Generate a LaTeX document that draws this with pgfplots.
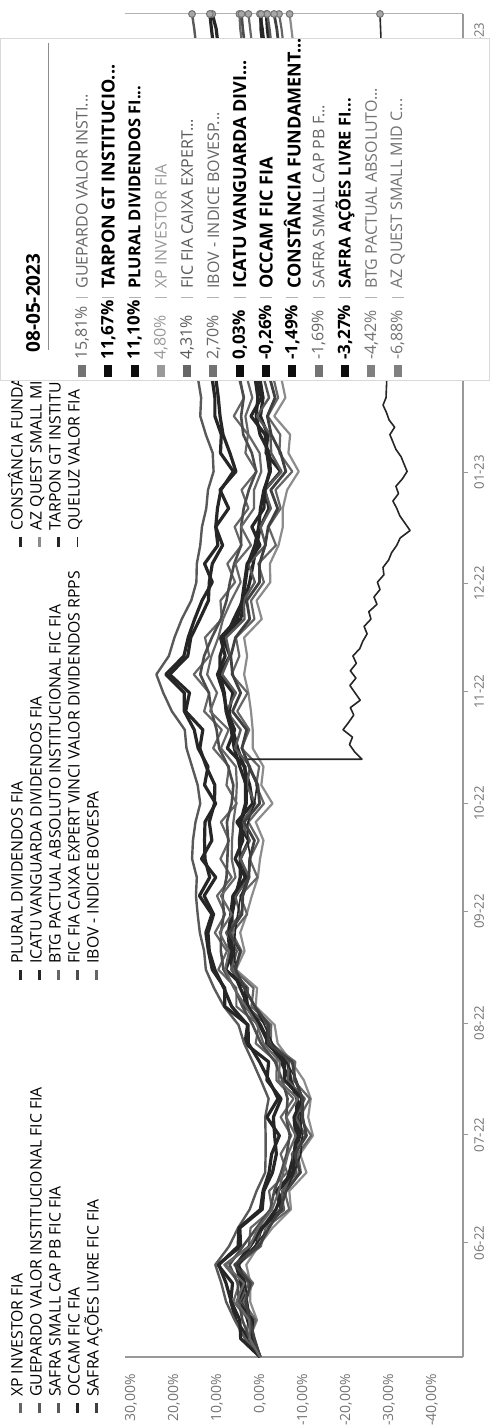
\documentclass[border=0pt]{standalone}
\usepackage{pgfplots}
\pgfplotsset{compat=1.18}
\usepackage{pgfplotstable}
\usepackage{fontspec}
\setmainfont{Open Sans}

\pgfplotstableread{
d G T P X C I IC O CO SS SA BT AZ
0 0 0 0 0 0 0 0 0 0 0 0 0 0
5 3.5 4.5 2.7 3.5 2.4 2.4 1.5 2.1 1.8 2.3 1.3 2.4 2.5
10 5.9 4.7 5.6 2.6 4.1 2.5 2.9 1.7 2.5 1.6 2.4 1.0 0.7
15 7.9 6.7 6.8 6.2 4.9 5.5 4.0 5.2 3.3 4.8 3.3 3.9 2.3
20 9.0 7.9 6.4 4.8 5.2 3.7 4.3 3.5 4.4 2.6 2.2 1.6 2.2
25 10.4 9.6 9.8 8.3 7.1 8.0 5.3 5.5 5.6 5.8 5.9 5.3 3.2
30 7.2 5.1 4.5 2.6 4.0 2.4 2.3 2.5 0.9 0.7 0.3 -0.2 0.4
35 5.1 4.9 4.7 2.2 0.8 0.4 -0.6 -0.4 -0.3 -0.1 -2.1 -1.3 -2.9
40 2.4 -0.1 -0.5 -2.8 -2.4 -2.8 -3.7 -4.9 -5.5 -5.5 -4.7 -6.8 -7.2
45 0.8 -0.7 -0.9 -2.1 -3.3 -4.4 -5.4 -3.8 -4.1 -5.1 -6.1 -5.7 -6.8
50 -1.2 -2.1 -2.9 -6.3 -4.9 -5.4 -6.8 -7.6 -8.1 -8.5 -9.3 -9.5 -10.8
55 -1.3 -2.7 -3.8 -4.8 -6.2 -6.5 -7.9 -8.1 -8.4 -7.4 -8.1 -8.8 -9.3
60 -1.3 -4.5 -3.4 -7.3 -6.9 -8.3 -8.5 -8.3 -9.2 -10.5 -10.8 -11.9 -12.3
65 -1.2 -1.6 -3.1 -4.8 -6.1 -6.1 -8.5 -7.9 -9.1 -8.3 -9.9 -9.2 -11.2
70 -2.0 -4.2 -4.9 -7.8 -6.4 -8.8 -8.6 -9.8 -8.7 -10.4 -9.9 -11.6 -11.8
75 -0.2 -2.1 -1.6 -3.8 -5.2 -4.3 -6.9 -5.7 -7.2 -6.4 -8.2 -7.8 -10.2
80 1.7 0.1 -2.0 -3.9 -3.5 -4.6 -4.9 -5.7 -6.4 -6.8 -7.5 -8.2 -7.3
85 3.7 2.7 3.5 1.0 -0.2 -0.8 -2.2 -2.0 -1.5 -1.9 -1.9 -2.5 -4.1
90 5.0 2.8 2.9 0.3 1.7 0.7 -0.1 0.1 -1.9 -1.7 -2.0 -2.6 -3.4
95 8.4 8.2 6.6 5.5 4.1 3.3 2.7 2.9 3.7 3.2 1.2 2.0 1.0
100 10.7 8.2 8.4 5.5 5.9 6.1 4.6 3.4 3.4 2.8 3.6 1.5 0.7
105 12.6 11.1 10.5 9.7 8.5 8.1 6.4 8.0 6.4 6.7 5.7 6.1 5.6
110 13.0 12.0 11.8 7.7 9.1 7.2 7.1 6.3 6.5 5.4 4.6 4.3 3.6
115 14.0 12.6 12.1 10.5 9.1 9.4 7.4 7.2 6.6 7.9 7.2 6.5 4.6
120 14.5 11.2 10.8 8.1 8.4 6.6 6.6 6.8 6.5 4.6 4.2 3.0 3.1
125 14.9 14.1 13.0 10.0 8.7 9.1 5.7 6.3 5.7 5.8 4.0 4.6 1.9
130 14.7 11.7 10.3 6.6 7.8 5.7 4.6 3.4 2.9 2.5 2.6 0.6 0.5
135 15.8 12.8 13.6 9.2 7.6 6.6 4.6 5.8 4.6 4.6 2.4 2.4 0.0
140 15.6 12.9 11.2 7.2 7.4 6.5 4.8 4.0 2.6 2.4 1.3 0.3 -0.8
145 15.0 12.8 11.8 9.1 7.7 6.2 4.3 4.5 5.4 4.2 3.7 2.7 1.0
150 13.9 10.3 10.6 5.4 6.6 5.6 3.2 3.4 1.7 1.1 0.1 -0.9 -2.9
155 14.5 12.9 10.5 7.8 6.2 5.4 3.2 3.4 2.4 3.1 0.5 0.9 -0.3
160 15.8 12.1 12.5 7.2 7.4 5.6 4.7 3.5 3.7 2.3 2.5 0.2 -0.8
165 17.1 14.4 14.0 10.9 9.5 9.1 6.0 7.6 5.2 5.8 4.2 4.3 1.7
170 17.5 15.3 13.3 8.9 10.1 7.3 6.7 5.9 6.3 4.5 3.1 2.5 1.7
175 20.5 17.6 17.3 13.0 11.3 11.6 7.9 7.7 7.2 7.8 6.4 5.3 2.1
180 22.5 17.6 16.4 11.8 11.9 10.0 8.3 8.5 6.3 5.6 4.5 2.9 2.7
185 24.1 21.9 21.0 15.4 13.9 12.3 9.3 9.9 9.5 8.8 6.4 6.6 3.7
190 21.2 17.7 16.8 11.8 13.0 11.3 9.3 8.1 7.0 7.0 6.8 4.8 3.0
195 19.9 16.7 16.1 12.8 11.2 9.7 8.0 9.2 8.6 7.9 5.7 5.6 3.7
200 18.2 15.2 14.0 8.9 9.1 8.6 6.1 5.3 4.5 3.6 2.4 1.3 -0.4
205 16.0 13.5 12.0 9.2 7.8 6.7 4.0 4.2 3.6 3.8 3.1 2.1 0.8
210 14.8 11.1 11.8 5.8 7.0 4.5 3.4 3.6 2.4 1.2 0.1 -0.9 -2.4
215 14.7 12.9 11.1 7.6 6.0 5.7 2.8 3.0 1.6 2.7 0.1 0.4 -2.3
220 13.9 9.8 8.7 4.3 4.4 2.1 1.2 0.0 0.8 -1.3 -1.2 -3.7 -4.3
225 13.5 10.3 10.3 5.9 4.4 4.4 0.3 1.9 -0.1 -0.1 -1.9 -2.0 -5.3
230 12.5 9.9 7.3 2.7 3.8 1.4 -0.1 -0.9 -2.1 -2.5 -4.1 -4.8 -5.3
235 12.1 9.1 9.3 4.3 2.6 1.4 -0.9 -1.1 -1.1 -1.1 -2.5 -3.6 -6.3
240 10.8 6.2 5.6 0.8 0.9 -0.3 -2.4 -2.2 -4.8 -5.0 -6.0 -7.5 -9.0
245 11.0 9.2 7.0 3.4 1.9 0.1 -2.2 -1.6 -1.4 -2.6 -4.8 -4.5 -6.6
250 12.6 9.0 8.6 2.8 3.9 2.7 0.0 -1.2 -1.8 -2.4 -2.6 -4.7 -7.0
255 13.9 10.5 9.3 6.1 4.4 3.4 0.9 2.1 -0.1 0.7 -1.7 -1.8 -3.3
260 13.7 10.5 9.7 3.7 3.8 1.8 0.5 -0.3 -0.7 -2.1 -3.5 -4.2 -5.9
270 15.1 11.7 10.8 6.0 5.5 4.1 1.7 1.9 0.7 0.2 -1.2 -2.2 -4.1
285 12.0 8.5 7.5 2.5 2.0 0.5 -2.0 -1.8 -3.0 -3.5 -5.0 -6.0 -8.0
300 11.3 7.7 6.7 1.5 1.0 -0.5 -3.1 -3.0 -4.2 -4.7 -6.2 -7.2 -9.3
315 9.1 5.4 4.3 -1.0 -1.5 -3.1 -5.7 -5.5 -6.8 -7.3 -8.9 -10.0 -12.1
330 12.4 8.6 7.5 2.0 1.5 -0.1 -2.9 -2.7 -4.0 -4.5 -6.1 -7.2 -9.4
345 14.1 10.2 9.1 3.6 3.0 1.3 -1.4 -1.2 -2.6 -3.1 -4.8 -5.9 -8.1
355 14.8 10.8 9.7 4.1 3.5 1.8 -1.0 -0.7 -2.2 -2.7 -4.4 -5.5 -7.8
360 15.3 11.3 10.2 4.6 4.0 2.3 -0.5 -0.2 -1.7 -2.2 -3.9 -5.0 -7.3
364 15.81 11.67 11.10 4.80 4.31 2.70 0.03 -0.26 -1.49 -1.69 -3.27 -4.42 -6.88
}\funds

\pgfplotstableread{
d v
0 0
5 1.6
10 2.3
15 2.9
20 3.5
25 4.8
30 1.3
35 -2.1
40 -4.7
45 -6.1
50 -7.9
55 -9.5
60 -9.8
65 -9.4
70 -9.9
75 -8.5
80 -6.1
85 -2.9
90 -1.0
95 1.2
100 3.6
105 5.7
110 6.0
115 5.8
120 5.2
125 4.5
130 2.7
135 2.2
140 2.9
145 2.8
150 1.3
155 0.7
160 2.7
162 3.0
162 -23.7
164 -22.0
166 -20.8
168 -21.5
170 -19.3
172 -20.6
174 -21.8
176 -21.0
178 -23.3
180 -22.1
182 -20.9
184 -22.3
186 -21.0
188 -22.4
190 -21.6
192 -23.2
194 -23.9
196 -24.9
198 -24.2
200 -25.8
202 -25.3
204 -27.2
206 -26.5
208 -27.9
210 -27.3
212 -28.8
214 -28.6
216 -29.9
218 -30.6
220 -31.8
222 -32.6
224 -34.9
226 -33.7
228 -32.5
230 -31.8
232 -30.9
234 -32.2
236 -31.6
238 -33.1
240 -34.2
242 -33.5
244 -32.8
246 -31.6
248 -30.9
250 -30.2
252 -31.3
254 -30.0
256 -29.4
258 -28.6
260 -29.3
280 -30.0
300 -31.0
320 -29.5
340 -28.5
355 -28.2
364 -27.9
}\queluz

\newcommand\prow[7]{%
  \pgfmathsetmacro\wk{203.5-13.15*#1}%
  \fill[#2] (525pt,\wk pt-2pt) rectangle (531pt,\wk pt+2pt);
  \node[anchor=west, inner sep=0pt, text=#4, font=#5] at (533.5pt,\wk pt) {#3};
  \draw[black!30, line width=0.4pt] (565pt,\wk pt-3pt) -- (565pt,\wk pt+3pt);
  \node[anchor=west, inner sep=0pt, text=#4, font=#6] at (569pt,\wk pt) {#7};
}

\begin{document}
\begin{tikzpicture}[rotate=90, transform shape]
\useasboundingbox (0,0) rectangle (713.5pt,244.5pt);
\begin{axis}[
  at={(35pt,13pt)}, anchor=south west,
  scale only axis, width=671.5pt, height=169pt,
  xmin=0, xmax=364, ymin=-47.2, ymax=31.4,
  axis x line*=bottom, axis y line*=left,
  axis line style={-, draw=black!40, line width=0.6pt},
  xtick={30.9,60.2,90.5,120.7,150.0,180.3,209.6,239.8,270.1,297.4,327.7,357.0},
  xticklabels={06-22,07-22,08-22,09-22,10-22,11-22,12-22,01-23,02-23,03-23,04-23,05-23},
  ytick={-40,-30,-20,-10,0,10,20,30},
  yticklabels={{-40,00\%},{-30,00\%},{-20,00\%},{-10,00\%},{0,00\%},{10,00\%},{20,00\%},{30,00\%}},
  tick label style={text=black!55},
  xticklabel style={anchor=north, inner sep=0pt, yshift=-3pt, font=\fontsize{6.6}{7}\selectfont},
  yticklabel style={anchor=east, inner sep=0pt, xshift=-6pt, font=\fontsize{7}{8}\selectfont},
  x tick style={draw=black!40, line width=0.5pt},
  y tick style={draw=none},
  tick align=outside, major tick length=2.5pt,
  legend columns=3,
  legend cell align=left,
  legend style={at={(-0.0432,1.337)}, anchor=north west, draw=none, fill=none,
    inner sep=0pt, outer sep=0pt, row sep=0pt, column sep=0pt,
    font=\fontsize{7.9}{8}\selectfont,
    nodes={inner sep=0pt, text height=5.8pt, text depth=3.7pt}},
  legend image code/.code={\draw[#1] (0pt,0pt) -- (5pt,0pt);},
  every axis plot/.append style={line join=round},
  endmark/.style={mark=*, mark indices={62}, mark size=1.7pt,
    mark options={solid, fill=black!35, draw=black!55, line width=0.5pt}},
]
\addplot[draw=black!60, line width=1.1pt, endmark] table[x=d,y=X]{\funds};
\addlegendentry{\makebox[210pt][l]{\hspace{2.5pt}XP INVESTOR FIA}}
\addplot[draw=black!85, line width=1.6pt, endmark] table[x=d,y=P]{\funds};
\addlegendentry{\makebox[210pt][l]{\hspace{2.5pt}PLURAL DIVIDENDOS FIA}}
\addplot[draw=black!85, line width=1.6pt, endmark] table[x=d,y=CO]{\funds};
\addlegendentry{\makebox[210pt][l]{\hspace{2.5pt}CONSTÂNCIA FUNDAMENTO FIA}}
\addplot[draw=black!65, line width=1.2pt, endmark] table[x=d,y=G]{\funds};
\addlegendentry{\makebox[210pt][l]{\hspace{2.5pt}GUEPARDO VALOR INSTITUCIONAL FIC FIA}}
\addplot[draw=black!85, line width=1.6pt, endmark] table[x=d,y=IC]{\funds};
\addlegendentry{\makebox[210pt][l]{\hspace{2.5pt}ICATU VANGUARDA DIVIDENDOS FIA}}
\addplot[draw=black!45, line width=1.1pt, endmark] table[x=d,y=AZ]{\funds};
\addlegendentry{\makebox[210pt][l]{\hspace{2.5pt}AZ QUEST SMALL MID CAPS FIC FIA}}
\addplot[draw=black!65, line width=1.2pt, endmark] table[x=d,y=SS]{\funds};
\addlegendentry{\makebox[210pt][l]{\hspace{2.5pt}SAFRA SMALL CAP PB FIC FIA}}
\addplot[draw=black!60, line width=1.1pt, endmark] table[x=d,y=BT]{\funds};
\addlegendentry{\makebox[210pt][l]{\hspace{2.5pt}BTG PACTUAL ABSOLUTO INSTITUCIONAL FIC FIA}}
\addplot[draw=black!85, line width=1.6pt, endmark] table[x=d,y=T]{\funds};
\addlegendentry{\makebox[210pt][l]{\hspace{2.5pt}TARPON GT INSTITUCIONAL I FIC FIA}}
\addplot[draw=black!85, line width=1.6pt, endmark] table[x=d,y=O]{\funds};
\addlegendentry{\makebox[210pt][l]{\hspace{2.5pt}OCCAM FIC FIA}}
\addplot[draw=black!70, line width=1.3pt, endmark] table[x=d,y=C]{\funds};
\addlegendentry{\makebox[210pt][l]{\hspace{2.5pt}FIC FIA CAIXA EXPERT VINCI VALOR DIVIDENDOS RPPS}}
\addplot[draw=black!85, line width=0.8pt, mark=*, mark indices={90}, mark size=1.7pt,
    mark options={solid, fill=black!35, draw=black!55, line width=0.5pt}] table[x=d,y=v]{\queluz};
\addlegendentry{\makebox[210pt][l]{\hspace{2.5pt}QUELUZ VALOR FIA}}
\addplot[draw=black!75, line width=1.4pt, endmark] table[x=d,y=SA]{\funds};
\addlegendentry{\makebox[210pt][l]{\hspace{2.5pt}SAFRA AÇÕES LIVRE FIC FIA}}
\addplot[draw=black!60, line width=1.1pt, endmark] table[x=d,y=I]{\funds};
\addlegendentry{\makebox[210pt][l]{\hspace{2.5pt}IBOV - INDICE BOVESPA}}
\draw[black!30, line width=0.5pt] (axis cs:364,-47.2) -- (axis cs:364,31.4);
\end{axis}
% tooltip panel
\fill[white] (523.5pt,0pt) rectangle (694.5pt,244.5pt);
\draw[black!15, line width=0.4pt] (523.5pt,0pt) rectangle (694.5pt,244.5pt);
\node[anchor=west, inner sep=0pt, font=\bfseries\fontsize{9.5}{10}\selectfont] at (537pt,228pt) {08-05-2023};
\draw[black!45, line width=0.4pt] (538.5pt,220.5pt) -- (692pt,220.5pt);
\prow{0}{black!55}{15,81\%}{black!60}{\fontsize{8}{9}\selectfont}{\fontsize{8}{9}\selectfont}{GUEPARDO VALOR INSTI...}
\prow{1}{black!95}{11,67\%}{black}{\bfseries\fontsize{8.5}{9}\selectfont}{\bfseries\fontsize{9}{10}\selectfont}{TARPON GT INSTITUCIO...}
\prow{2}{black!95}{11,10\%}{black}{\bfseries\fontsize{8.5}{9}\selectfont}{\bfseries\fontsize{8.2}{9}\selectfont}{PLURAL DIVIDENDOS FI...}
\prow{3}{black!40}{4,80\%}{black!40}{\fontsize{8}{9}\selectfont}{\fontsize{8}{9}\selectfont}{XP INVESTOR FIA}
\prow{4}{black!60}{4,31\%}{black!65}{\fontsize{8}{9}\selectfont}{\fontsize{8}{9}\selectfont}{FIC FIA CAIXA EXPERT...}
\prow{5}{black!55}{2,70\%}{black!60}{\fontsize{8}{9}\selectfont}{\fontsize{8}{9}\selectfont}{IBOV - INDICE BOVESP...}
\prow{6}{black!95}{0,03\%}{black}{\bfseries\fontsize{8.5}{9}\selectfont}{\bfseries\fontsize{9}{10}\selectfont}{ICATU VANGUARDA DIVI...}
\prow{7}{black!95}{-0,26\%}{black}{\bfseries\fontsize{8.5}{9}\selectfont}{\bfseries\fontsize{9}{10}\selectfont}{OCCAM FIC FIA}
\prow{8}{black!95}{-1,49\%}{black}{\bfseries\fontsize{8.5}{9}\selectfont}{\bfseries\fontsize{9}{10}\selectfont}{CONSTÂNCIA FUNDAMENT...}
\prow{9}{black!55}{-1,69\%}{black!60}{\fontsize{8}{9}\selectfont}{\fontsize{8}{9}\selectfont}{SAFRA SMALL CAP PB F...}
\prow{10}{black!95}{-3,27\%}{black}{\bfseries\fontsize{8.5}{9}\selectfont}{\bfseries\fontsize{8.2}{9}\selectfont}{SAFRA AÇÕES LIVRE FI...}
\prow{11}{black!50}{-4,42\%}{black!55}{\fontsize{8}{9}\selectfont}{\fontsize{8}{9}\selectfont}{BTG PACTUAL ABSOLUTO...}
\prow{12}{black!50}{-6,88\%}{black!55}{\fontsize{8}{9}\selectfont}{\fontsize{8}{9}\selectfont}{AZ QUEST SMALL MID C...}
\end{tikzpicture}
\end{document}
